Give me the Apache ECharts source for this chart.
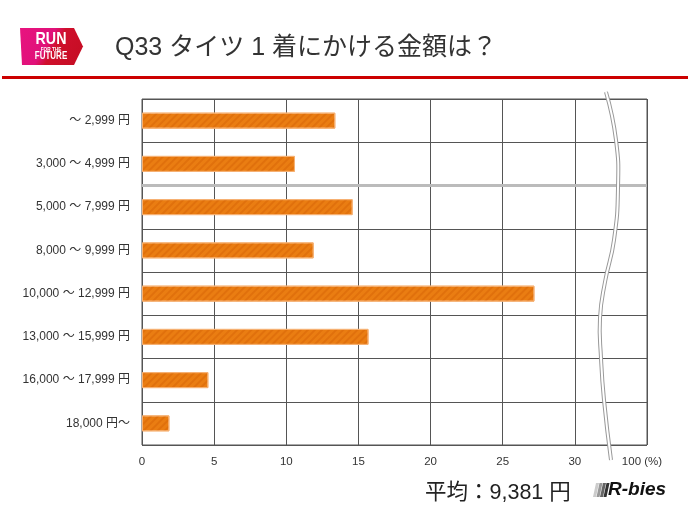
<!DOCTYPE html>
<html>
<head>
<meta charset="utf-8">
<script src="https://cdn.jsdelivr.net/npm/echarts@6/dist/echarts.min.js"></script>
<style>
  html, body { margin: 0; padding: 0; background: #fff; }
  #chart { width: 688px; height: 516px; }
</style>
</head>
<body>
<div id="chart"></div>
<script>
// price bands (top to bottom)
const categories = [
  '〜 2,999 円',
  '3,000 〜 4,999 円',
  '5,000 〜 7,999 円',
  '8,000 〜 9,999 円',
  '10,000 〜 12,999 円',
  '13,000 〜 15,999 円',
  '16,000 〜 17,999 円',
  '18,000 円〜'
]
// share of answers (%)
const shares = [13.4, 10.6, 14.6, 11.9, 27.2, 15.7, 4.6, 1.9]
// axis end is drawn as a broken scale labelled 100
const axisTicks = [0, 5, 10, 15, 20, 25, 30, 35]
const axisEndLabel = '100 (%)'
const averageYen = '9,381'

const jp = '"Liberation Sans", "Noto Sans CJK JP", sans-serif'
const chart = echarts.init(document.getElementById('chart'))

chart.setOption({
  backgroundColor: '#fff',
  animation: false,
  title: [{
    text: 'Q33 タイツ 1 着にかける金額は？',
    left: 110,
    top: 31,
    textStyle: { fontFamily: jp, fontSize: 25, fontWeight: 'normal', color: '#333' }
  }, {
    text: '平均：' + averageYen + ' 円',
    left: 420,
    top: 477,
    textStyle: { fontFamily: jp, fontSize: 21.5, fontWeight: 'normal', color: '#222' }
  }],
  grid: {
    left: 142,
    right: 41,
    top: 99,
    bottom: 71,
    show: true,
    borderColor: '#555',
    borderWidth: 1
  },
  xAxis: {
    type: 'value',
    min: axisTicks[0],
    max: axisTicks[axisTicks.length - 1],
    interval: 5,
    axisLine: { show: false },
    axisTick: { show: false },
    axisLabel: {
      margin: 11,
      fontFamily: jp,
      fontSize: 11.5,
      color: '#333',
      formatter: v => v === axisTicks[axisTicks.length - 1] ? '{e|' + axisEndLabel + '}' : String(v),
      rich: { e: { fontFamily: jp, fontSize: 11.5, color: '#333', padding: [0, 10, 0, 0] } }
    },
    splitLine: { lineStyle: { color: '#555', width: 1 } }
  },
  yAxis: {
    type: 'category',
    inverse: true,
    data: categories,
    axisLine: { show: false },
    axisTick: { show: false },
    axisLabel: { margin: 12, fontFamily: jp, fontSize: 12, color: '#333' },
    splitLine: { show: true, lineStyle: { color: '#555', width: 1 } }
  },
  series: [{
    type: 'bar',
    data: shares,
    barWidth: 16,
    itemStyle: {
      color: '#ea7d12',
      borderColor: '#f6b173',
      borderWidth: 1,
      decal: {
        symbol: 'rect',
        color: 'rgba(205, 88, 0, 0.35)',
        dashArrayX: [1, 0],
        dashArrayY: [1.5, 2.5],
        rotation: -Math.PI / 4
      }
    }
  }]
})

// decorations: header logo, red rule, scale break, highlight rule, brand logo
const yMid = (chart.convertToPixel({ yAxisIndex: 0 }, categories[1]) +
  chart.convertToPixel({ yAxisIndex: 0 }, categories[2])) / 2
const breakPts = [[606, 92], [616, 140], [618, 188], [614, 240], [605, 282], [600, 318], [601, 358], [604, 400], [611, 460]]
const sans = '"Liberation Sans", Arial'

chart.setOption({
  graphic: [
    {
      type: 'polygon',
      shape: { points: [[20, 28], [74, 28], [83, 46.5], [74, 65], [22, 65]] },
      style: {
        fill: new echarts.graphic.LinearGradient(0, 0, 1, 1, [
          { offset: 0, color: '#e8137f' },
          { offset: 0.42, color: '#e0117a' },
          { offset: 0.55, color: '#cf0f2c' },
          { offset: 1, color: '#c40d22' }
        ])
      }
    },
    { type: 'text', x: 51, y: 39.5, scaleX: 0.84, style: { text: 'RUN', fill: '#fff', font: 'bold 17px ' + sans, textAlign: 'center', textVerticalAlign: 'middle' } },
    { type: 'text', x: 51, y: 49.5, scaleX: 0.85, style: { text: 'FOR THE', fill: '#fff', font: 'bold 5.5px ' + sans, textAlign: 'center', textVerticalAlign: 'middle' } },
    { type: 'text', x: 51, y: 56.5, scaleX: 0.8, style: { text: 'FUTURE', fill: '#fff', font: 'bold 10px ' + sans, textAlign: 'center', textVerticalAlign: 'middle' } },
    { type: 'rect', shape: { x: 2, y: 76, width: 686, height: 3 }, style: { fill: '#cc0000' } },
    { type: 'line', shape: { x1: 142, y1: yMid, x2: 647, y2: yMid }, style: { stroke: '#bbb', lineWidth: 3 }, z: 5 },
    { type: 'polyline', shape: { points: breakPts, smooth: 0.5 }, style: { stroke: '#999', lineWidth: 4, fill: null }, z: 10 },
    { type: 'polyline', shape: { points: breakPts, smooth: 0.5 }, style: { stroke: '#fff', lineWidth: 2, fill: null }, z: 11 },
    { type: 'polygon', shape: { points: [[596, 483], [599, 483], [596, 497], [593, 497]] }, style: { fill: '#ccc' } },
    { type: 'polygon', shape: { points: [[599.5, 483], [602.5, 483], [599.5, 497], [596.5, 497]] }, style: { fill: '#999' } },
    { type: 'polygon', shape: { points: [[603, 483], [606, 483], [603, 497], [600, 497]] }, style: { fill: '#666' } },
    { type: 'polygon', shape: { points: [[606.5, 483], [609.5, 483], [606.5, 497], [603.5, 497]] }, style: { fill: '#333' } },
    { type: 'text', x: 608, y: 490, style: { text: 'R-bies', fill: '#111', font: 'italic bold 19px ' + sans, textVerticalAlign: 'middle' } }
  ]
})
</script>
</body>
</html>
